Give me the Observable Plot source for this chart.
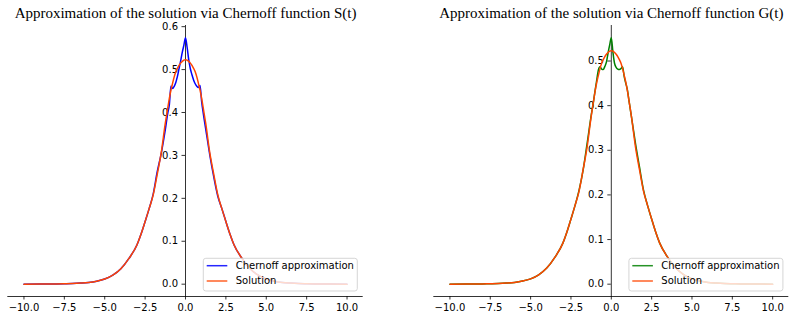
<!DOCTYPE html>
<html><head><meta charset="utf-8">
<script src="https://cdn.jsdelivr.net/npm/d3@7"></script>
<script src="https://cdn.jsdelivr.net/npm/@observablehq/plot@0.6"></script>
<style>
body{margin:0;background:#fff;}
#wrap{display:flex;width:795px;height:320px;overflow:hidden;}
</style></head><body><div id="wrap"></div>
<script>
const xs = [-10,-9,-8,-7.5,-7,-6.5,-6,-5.5,-5,-4.5,-4,-3.5,-3,-2.75,-2.5,-2.25,-2,-1.75,-1.5,-1.25,-1.1,-1,-0.9,-0.8,-0.7,-0.6,-0.5,-0.4,-0.3,-0.2,-0.1,0,0.1,0.2,0.3,0.4,0.5,0.6,0.7,0.8,0.9,1,1.1,1.25,1.5,1.75,2,2.25,2.5,2.75,3,3.5,4,4.5,5,5.5,6,6.5,7,7.5,8,9,10];
const solution = [0.0001,0.0002,0.0006,0.001,0.0015,0.0025,0.004,0.007,0.012,0.021,0.036,0.06,0.092,0.117,0.146,0.176,0.208,0.256,0.307,0.375,0.41,0.433,0.452,0.468,0.483,0.495,0.503,0.51,0.515,0.519,0.522,0.523,0.522,0.519,0.515,0.51,0.503,0.495,0.483,0.468,0.452,0.433,0.41,0.375,0.307,0.256,0.208,0.176,0.146,0.117,0.092,0.06,0.036,0.021,0.012,0.007,0.004,0.0025,0.0015,0.001,0.0006,0.0002,0.0001];
const chernoffS = [0.0001,0.0002,0.0006,0.001,0.0015,0.0025,0.004,0.007,0.012,0.021,0.036,0.06,0.092,0.117,0.146,0.176,0.21,0.262,0.305,0.36,0.398,0.418,0.462,0.456,0.461,0.47,0.484,0.502,0.52,0.54,0.557,0.574,0.552,0.523,0.502,0.488,0.476,0.467,0.461,0.458,0.463,0.425,0.398,0.362,0.302,0.25,0.205,0.176,0.146,0.117,0.092,0.06,0.036,0.021,0.012,0.007,0.004,0.0025,0.0015,0.001,0.0006,0.0002,0.0001];
const chernoffG = [0.0001,0.0002,0.0006,0.001,0.0015,0.0025,0.004,0.007,0.012,0.021,0.036,0.06,0.092,0.117,0.146,0.176,0.21,0.255,0.315,0.377,0.41,0.435,0.458,0.48,0.487,0.482,0.481,0.488,0.498,0.518,0.536,0.552,0.52,0.495,0.486,0.482,0.481,0.483,0.487,0.465,0.45,0.435,0.41,0.375,0.315,0.262,0.21,0.176,0.146,0.117,0.092,0.06,0.036,0.021,0.012,0.007,0.004,0.0025,0.0015,0.001,0.0006,0.0002,0.0001];
const titles = ["Approximation of the solution via Chernoff function S(t)", "Approximation of the solution via Chernoff function G(t)"];
const legendLabels = ["Chernoff approximation", "Solution"];
const xTicks = [-10,-7.5,-5,-2.5,0,2.5,5,7.5,10];
const approxColors = ["#0000ff", "#008000"];
const solutionColor = "#ff4500";

function panel({width, marginLeft, marginRight, approx, color, title}) {
  const marginTop = 25, marginBottom = 24, height = 320;
  const rows = xs.map((x, i) => ({x, approx: approx[i], sol: solution[i]}));
  const ymax = Math.max(d3.max(approx), d3.max(solution));
  const pad = ymax * 0.05;
  const yDomain = [-pad, ymax + pad];
  const yTicks = d3.range(0, Math.floor(yDomain[1] * 10 + 1e-6) + 1).map(i => i / 10);
  const fw = width - marginLeft - marginRight;
  const chart = Plot.plot({
    width, height, marginLeft, marginRight, marginTop, marginBottom,
    style: {fontFamily: "DejaVu Sans", fontSize: "10px", color: "black", background: "white", overflow: "visible"},
    x: {domain: [-11, 11]},
    y: {domain: yDomain},
    marks: [
      Plot.ruleY([yDomain[0]], {stroke: "black", strokeWidth: 0.8}),
      Plot.ruleX([0], {stroke: "black", strokeWidth: 0.8}),
      Plot.axisX({ticks: xTicks, tickFormat: d3.format(".1f"), tickSize: 3.5, tickPadding: 3.5, label: null, stroke: "black", strokeWidth: 0.8, fill: "black"}),
      Plot.axisY({ticks: yTicks, tickFormat: d3.format(".1f"), anchor: "left", dx: fw / 2, tickSize: 3.5, tickPadding: 4, label: null, stroke: "black", strokeWidth: 0.8, fill: "black"}),
      Plot.line(rows, {x: "x", y: "approx", stroke: color, strokeWidth: 1.5, curve: "monotone-x"}),
      Plot.line(rows, {x: "x", y: "sol", stroke: solutionColor, strokeWidth: 1.5, curve: "monotone-x"}),
      Plot.text([title], {frameAnchor: "top", text: d => d, dy: -7.5, lineAnchor: "bottom", fontFamily: "Liberation Serif", fontSize: 15, fill: "black"})
    ]
  });
  // legend (lower right)
  const svg = d3.select(chart);
  const bw = 154, bh = 32.7;
  const bx = width - marginRight - 5.4 - bw;
  const by = height - marginBottom - 5 - bh;
  const g = svg.append("g").attr("transform", `translate(${bx},${by})`).attr("text-anchor", "start");
  g.append("rect").attr("width", bw).attr("height", bh).attr("rx", 2.5)
    .attr("fill", "white").attr("fill-opacity", 0.8).attr("stroke", "#cccccc").attr("stroke-width", 0.8);
  const cols = [color, solutionColor];
  legendLabels.forEach((lab, i) => {
    const cy = 7.4 + i * 15.3;
    g.append("line").attr("x1", 3.4).attr("x2", 24).attr("y1", cy).attr("y2", cy)
      .attr("stroke", cols[i]).attr("stroke-width", 1.5).attr("stroke-opacity", 0.85);
    g.append("text").attr("x", 32.4).attr("y", cy).attr("dy", "0.35em").attr("text-anchor", "start")
      .attr("font-family", "DejaVu Sans").attr("font-size", 10).attr("fill", "black").text(lab);
  });
  return chart;
}

const wrap = document.getElementById("wrap");
wrap.appendChild(panel({width: 397, marginLeft: 7.3, marginRight: 34.3, approx: chernoffS, color: approxColors[0], title: titles[0]}));
wrap.appendChild(panel({width: 398, marginLeft: 36.3, marginRight: 6.7, approx: chernoffG, color: approxColors[1], title: titles[1]}));
</script>
</body></html>
